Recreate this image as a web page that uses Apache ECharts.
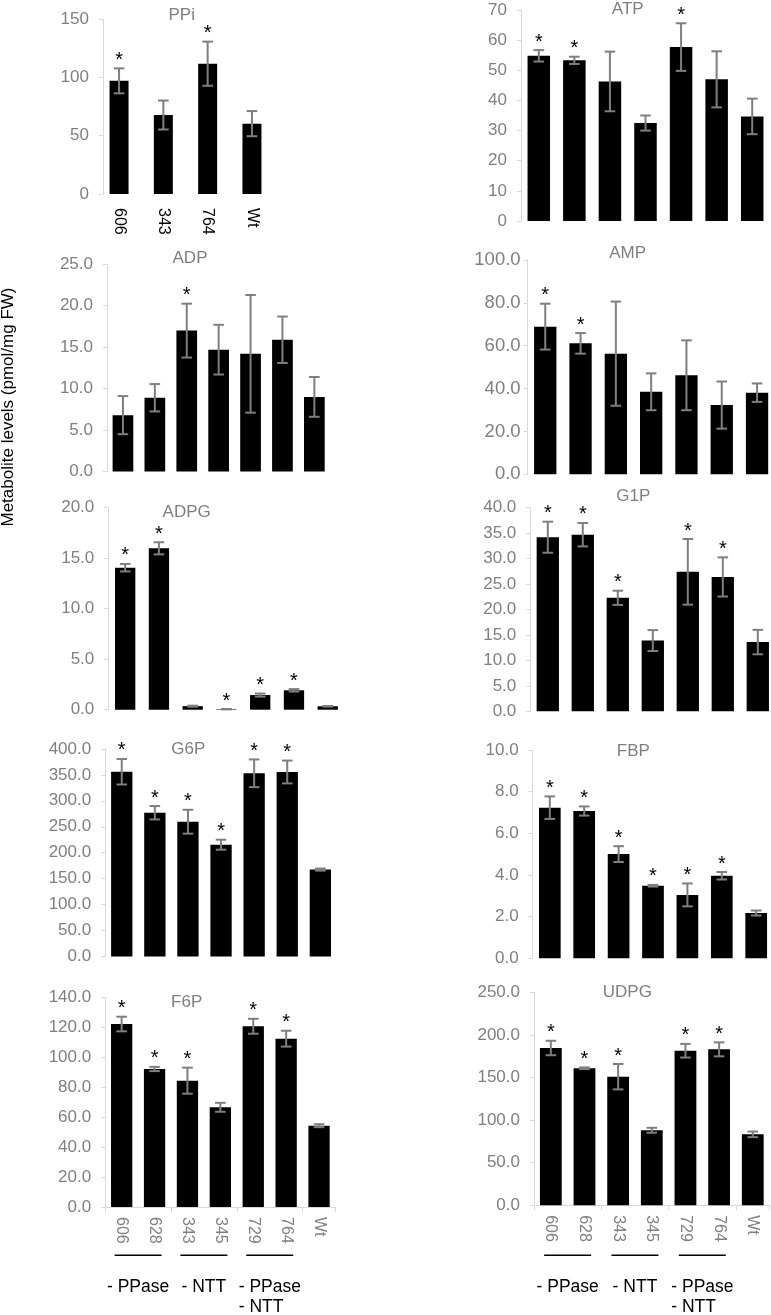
<!DOCTYPE html>
<html><head><meta charset="utf-8">
<script src="https://cdn.jsdelivr.net/npm/echarts@6/dist/echarts.min.js"></script>
<style>html,body{margin:0;padding:0;background:#fff}#c{width:771px;height:1315px}</style>
</head><body><div id="c"></div>
<script>
// ---------- DATA ----------
const catsPPi = ['606', '343', '764', 'Wt'];
const cats = ['606', '628', '343', '345', '729', '764', 'Wt'];

const ppiMean = [97, 67.7, 111.7, 60.3];
const ppiErr = [10.7, 12.4, 18.9, 10.8];
const ppiStar = [1, 0, 1, 0];

const atpMean = [54.8, 53.3, 46.3, 32.5, 57.7, 47.0, 34.7];
const atpErr = [1.9, 1.2, 9.9, 2.5, 7.9, 9.3, 5.9];
const atpStar = [1, 1, 0, 0, 1, 0, 0];

const adpMean = [6.8, 8.9, 17.0, 14.7, 14.2, 15.9, 9.0];
const adpErr = [2.3, 1.65, 3.25, 3.0, 7.1, 2.8, 2.4];
const adpStar = [0, 0, 1, 0, 0, 0, 0];

const ampMean = [68.9, 61.1, 56.3, 38.5, 46.2, 32.3, 38.1];
const ampErr = [10.7, 4.8, 24.3, 8.6, 16.3, 11.0, 4.3];
const ampStar = [1, 1, 0, 0, 0, 0, 0];

const adpgMean = [14.06, 15.98, 0.35, 0.05, 1.45, 1.92, 0.34];
const adpgErr = [0.37, 0.6, 0.05, 0.02, 0.15, 0.12, 0.03];
const adpgStar = [1, 1, 0, 1, 1, 1, 0];

const g1pMean = [34.2, 34.7, 22.3, 13.9, 27.4, 26.4, 13.6];
const g1pErr = [3.05, 2.3, 1.4, 2.05, 6.45, 3.85, 2.4];
const g1pStar = [1, 1, 1, 0, 1, 1, 0];

const g6pMean = [356, 277, 259.7, 215.4, 353, 355.5, 167.5];
const g6pErr = [24.6, 12.9, 23, 9.6, 26.7, 22, 2];
const g6pStar = [1, 1, 1, 1, 1, 1, 0];

const fbpMean = [7.23, 7.07, 5.0, 3.48, 3.04, 3.96, 2.17];
const fbpErr = [0.54, 0.22, 0.38, 0.04, 0.55, 0.18, 0.12];
const fbpStar = [1, 1, 1, 1, 1, 1, 0];

const f6pMean = [122.4, 92.3, 84.5, 66.7, 120.9, 112.6, 54.4];
const f6pErr = [4.9, 1.4, 8.7, 3.0, 5.0, 5.3, 1.0];
const f6pStar = [1, 1, 1, 0, 1, 1, 0];

const udpgMean = [184.6, 160.8, 150.9, 88.0, 181.4, 183.0, 83.2];
const udpgErr = [8.5, 1.0, 14.9, 2.9, 8.0, 8.2, 3.3];
const udpgStar = [1, 1, 1, 0, 1, 1, 0];

// y-axis ticks: [max, interval, decimals]
const ppiTicks = [150, 50, 0];
const atpTicks = [70, 10, 0];
const adpTicks = [25, 5, 1];
const ampTicks = [100, 20, 1];
const adpgTicks = [20, 5, 1];
const g1pTicks = [40, 5, 1];
const g6pTicks = [400, 50, 1];
const fbpTicks = [10, 2, 1];
const f6pTicks = [140, 20, 1];
const udpgTicks = [250, 50, 1];

const groups = [
  { label: '- PPase', cats: ['606', '628'], multi: false },
  { label: '- NTT', cats: ['343', '345'], multi: false },
  { label: '- PPase\n- NTT', cats: ['729', '764'], multi: true }
];
const yTitle = 'Metabolite levels (pmol/mg FW)';

// ---------- LAYOUT ----------
const FONT = 'Liberation Sans, Arial, sans-serif';
const GRAY = '#7f7f7f';
const AXIS = '#d9d9d9';

const panels = [
  { name: 'PPi', cats: catsPPi, mean: ppiMean, err: ppiErr, star: ppiStar, ticks: ppiTicks,
    grid: [96.9, 19, 177.2, 175], barW: 19, yOffset: -6, title: [181.7, 15], xlab: 'black' },
  { name: 'ATP', cats: cats, mean: atpMean, err: atpErr, star: atpStar, ticks: atpTicks,
    grid: [521, 10, 249, 211], barW: 22.5, title: [627.7, 9] },
  { name: 'ADP', cats: cats, mean: adpMean, err: adpErr, star: adpStar, ticks: adpTicks,
    grid: [107, 264.3, 223.3, 207.2], barW: 20.7, title: [190, 258] },
  { name: 'AMP', cats: cats, mean: ampMean, err: ampErr, star: ampStar, ticks: ampTicks,
    grid: [527.6, 260, 247.1, 214.3], barW: 22.3, title: [627.7, 253.3], yFont: 18.5, yMargin: 7 },
  { name: 'ADPG', cats: cats, mean: adpgMean, err: adpgErr, star: adpgStar, ticks: adpgTicks,
    grid: [108.3, 507.7, 236.3, 202], barW: 20.3, title: [186.7, 512.3] },
  { name: 'G1P', cats: cats, mean: g1pMean, err: g1pErr, star: g1pStar, ticks: g1pTicks,
    grid: [530.3, 507.7, 245, 203.6], barW: 22.3, title: [633.3, 496.7] },
  { name: 'G6P', cats: cats, mean: g6pMean, err: g6pErr, star: g6pStar, ticks: g6pTicks,
    grid: [105.2, 748.9, 231.7, 207.6], barW: 21.3, title: [188.3, 749.3] },
  { name: 'FBP', cats: cats, mean: fbpMean, err: fbpErr, star: fbpStar, ticks: fbpTicks,
    grid: [532.6, 750, 240.8, 208.2], barW: 21.7, title: [633.3, 751] },
  { name: 'F6P', cats: cats, mean: f6pMean, err: f6pErr, star: f6pStar, ticks: f6pTicks,
    grid: [105.2, 997.7, 230.3, 209.3], barW: 21.3, title: [186.7, 1002.3], xlab: 'gray' },
  { name: 'UDPG', cats: cats, mean: udpgMean, err: udpgErr, star: udpgStar, ticks: udpgTicks,
    grid: [534, 992.3, 235.6, 212.9], barW: 21.8, title: [627.3, 992.3], xlab: 'gray' }
];

function errRender(params, api) {
  const i = api.value(0), v = api.value(1), e = api.value(2), s = api.value(3);
  const top = api.coord([i, v + e]);
  const bot = api.coord([i, v - e]);
  const hw = 5.3;
  const st = { stroke: '#7f7f7f', lineWidth: 2 };
  const ch = [
    { type: 'line', shape: { x1: top[0], y1: top[1], x2: bot[0], y2: bot[1] }, style: st },
    { type: 'line', shape: { x1: top[0] - hw, y1: top[1], x2: top[0] + hw, y2: top[1] }, style: st },
    { type: 'line', shape: { x1: bot[0] - hw, y1: bot[1], x2: bot[0] + hw, y2: bot[1] }, style: st }
  ];
  if (s) {
    ch.push({ type: 'text', x: top[0], y: top[1] - 8,
      style: { text: '*', fontSize: 20, fontFamily: FONT, fill: '#000', align: 'center', verticalAlign: 'middle' } });
  }
  return { type: 'group', children: ch };
}

const grid = [], xAxis = [], yAxis = [], series = [], graphic = [];
panels.forEach((p, k) => {
  grid.push({ left: p.grid[0], top: p.grid[1], width: p.grid[2], height: p.grid[3],
    containLabel: false, outerBoundsMode: 'none' });
  const bottom = p.xlab === 'gray';
  xAxis.push({
    type: 'category', gridIndex: k, data: p.cats, boundaryGap: true,
    axisLine: { show: bottom, lineStyle: { color: AXIS, width: 1 } },
    axisTick: { show: bottom, length: 5, lineStyle: { color: AXIS }, interval: (idx) => idx % 2 === 0 },
    axisLabel: { show: !!p.xlab, rotate: -90, interval: 0, margin: bottom ? 10 : 14,
      color: bottom ? GRAY : '#000', fontSize: bottom ? 16 : 16, fontFamily: FONT },
    splitLine: { show: false }
  });
  const dec = p.ticks[2];
  yAxis.push({
    type: 'value', gridIndex: k, min: 0, max: p.ticks[0], interval: p.ticks[1],
    offset: p.yOffset || 0,
    axisLine: { show: true, lineStyle: { color: AXIS, width: 1 } },
    axisTick: { show: true, length: 4, lineStyle: { color: AXIS } },
    axisLabel: { color: GRAY, fontSize: p.yFont || 17, fontFamily: FONT, margin: p.yMargin || 14,
      formatter: (v) => v.toFixed(dec) },
    splitLine: { show: false }
  });
  series.push({
    type: 'bar', xAxisIndex: k, yAxisIndex: k, data: p.mean, barWidth: p.barW,
    itemStyle: { color: '#000' }, silent: true, animation: false
  });
  series.push({
    type: 'custom', xAxisIndex: k, yAxisIndex: k, renderItem: errRender, animation: false, clip: false,
    data: p.mean.map((m, i) => [i, m, p.err[i], p.star[i]]), z: 5, silent: true
  });
  graphic.push({ type: 'text', x: p.title[0], y: p.title[1],
    style: { text: p.name, fontSize: 17, fontFamily: FONT, fill: GRAY, align: 'center', verticalAlign: 'middle' } });
});

graphic.push({ type: 'text', x: 8, y: 407, rotation: Math.PI / 2,
  style: { text: yTitle, fontSize: 17, fontFamily: FONT, fill: '#000', align: 'center', verticalAlign: 'middle' } });

const chart = echarts.init(document.getElementById('c'), null, { renderer: 'canvas', width: 771, height: 1315 });
chart.setOption({ animation: false, backgroundColor: '#fff', grid, xAxis, yAxis, series, graphic });

// group annotations under the two bottom panels, positioned through the axes
[8, 9].forEach((ax) => {
  groups.forEach((g) => {
    const a = chart.convertToPixel({ xAxisIndex: ax }, g.cats[0]);
    const b = chart.convertToPixel({ xAxisIndex: ax }, g.cats[1]);
    const c = (a + b) / 2;
    graphic.push({ type: 'line', shape: { x1: c - 23.5, y1: 1255.3, x2: c + 23.5, y2: 1255.3 },
      style: { stroke: '#000', lineWidth: 1.5 } });
    graphic.push({ type: 'text', x: g.multi ? c - 31 : c, y: 1276.7,
      style: { text: g.label, fontSize: 17.5, fontFamily: FONT, fill: '#000', lineHeight: 20,
        align: g.multi ? 'left' : 'center', verticalAlign: 'top' } });
  });
});
chart.setOption({ graphic });
</script></body></html>
